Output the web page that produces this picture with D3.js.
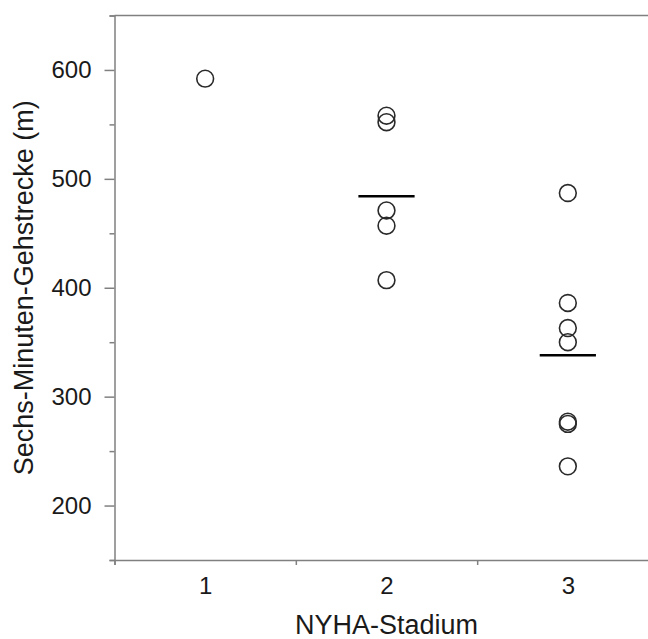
<!DOCTYPE html>
<html>
<head>
<meta charset="utf-8">
<script src="https://cdn.jsdelivr.net/npm/d3@7"></script>
<style>
  html, body { margin: 0; padding: 0; background: #fff; }
  svg { display: block; font-family: "Liberation Sans", Arial, sans-serif; }
</style>
</head>
<body>
<svg id="chart" width="648" height="639"></svg>
<script>
// ---- data ----
const categories = [1, 2, 3];
const stadium1 = [592];
const stadium2 = [558, 552, 471, 457, 407];
const stadium3 = [487, 386, 363, 350, 277, 275, 236];
const groupMeans = [null, 484, 338];
const yTickLabels = [200, 300, 400, 500, 600];
const yMinorTicks = [150, 250, 350, 450, 550, 650];
const xMinorTicks = [0.5, 1.5, 2.5, 3.5];
const xLabel = "NYHA-Stadium";
const yLabel = "Sechs-Minuten-Gehstrecke (m)";

(function () {
const groups = [stadium1, stadium2, stadium3];
const points = [];
groups.forEach((vals, i) => vals.forEach(v => points.push({ x: categories[i], y: v })));
const meanData = categories.map((c, i) => ({ x: c, m: groupMeans[i] })).filter(d => d.m != null);

const svg = d3.select("#chart");
const pLeft = 114.5, pRight = 658.5, pTop = 15.5, pBottom = 560;
const x = d3.scaleLinear().domain([0.5, 3.5]).range([pLeft, pRight]);
const y = d3.scaleLinear().domain([150, 650]).range([pBottom, pTop]);

const axisColor = "#808080";
const textColor = "#1a1a1a";

// top frame line
svg.append("line")
  .attr("x1", pLeft).attr("x2", pRight).attr("y1", pTop).attr("y2", pTop)
  .attr("stroke", axisColor).attr("stroke-width", 1.5);

// y axis: minor ticks
const yMinor = svg.append("g").attr("transform", `translate(${pLeft},0)`)
  .call(d3.axisLeft(y).tickValues(yMinorTicks).tickSize(5).tickFormat(""));
// y axis: major ticks with labels
const yMajor = svg.append("g").attr("transform", `translate(${pLeft},0)`)
  .call(d3.axisLeft(y).tickValues(yTickLabels).tickSize(10).tickPadding(13).tickFormat(d3.format("d")));

// x axis: minor ticks
const xMinor = svg.append("g").attr("transform", `translate(0,${pBottom})`)
  .call(d3.axisBottom(x).tickValues(xMinorTicks).tickSize(5).tickFormat(""));
// x axis: labels
const xMajor = svg.append("g").attr("transform", `translate(0,${pBottom})`)
  .call(d3.axisBottom(x).tickValues(categories).tickSize(0).tickPadding(17).tickFormat(d3.format("d")));

[yMinor, yMajor, xMinor, xMajor].forEach(g => {
  g.attr("font-size", 24).attr("font-family", "'Liberation Sans', Arial, sans-serif");
  g.selectAll("path.domain").attr("stroke", axisColor).attr("stroke-width", 1.5);
  g.selectAll(".tick line").attr("stroke", axisColor).attr("stroke-width", 1.5);
  g.selectAll(".tick text").attr("fill", textColor).style("font-size", "24px");
});
yMajor.select("path.domain").remove();
xMajor.select("path.domain").remove();

// axis titles
svg.append("text")
  .attr("x", (pLeft + pRight) / 2).attr("y", 634)
  .attr("text-anchor", "middle").style("font-size", "27px").attr("fill", textColor)
  .text(xLabel);
svg.append("text")
  .attr("transform", `translate(33,${(pTop + pBottom) / 2}) rotate(-90)`)
  .attr("text-anchor", "middle").style("font-size", "27px").attr("fill", textColor)
  .text(yLabel);

// mean lines
svg.append("g").selectAll("line").data(meanData).join("line")
  .attr("x1", d => x(d.x - 0.155)).attr("x2", d => x(d.x + 0.155))
  .attr("y1", d => y(d.m)).attr("y2", d => y(d.m))
  .attr("stroke", "#000").attr("stroke-width", 2.5);

// points
svg.append("g").selectAll("circle").data(points).join("circle")
  .attr("cx", d => x(d.x)).attr("cy", d => y(d.y)).attr("r", 8.4)
  .attr("fill", "none").attr("stroke", "#2a2a2a").attr("stroke-width", 1.6);
})();
</script>
</body>
</html>
